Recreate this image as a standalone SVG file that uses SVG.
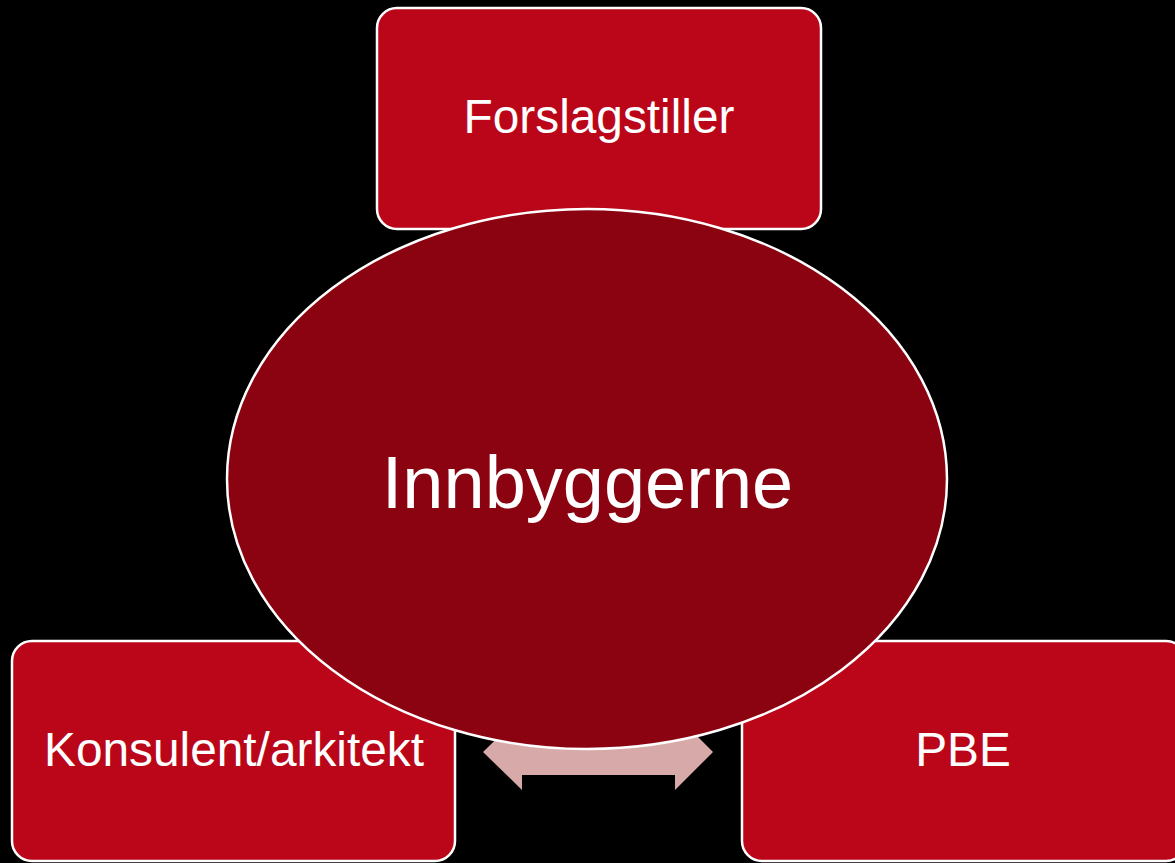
<svg xmlns="http://www.w3.org/2000/svg" width="1175" height="863" viewBox="0 0 1175 863">
<style>
.box{fill:#BA0618;stroke:#FFFFFF;stroke-width:2.5}
.hub{fill:#8B0311;stroke:#FFFFFF;stroke-width:2.5}
.lbl{font-family:"Liberation Sans",Arial,sans-serif;fill:#FFFFFF;text-anchor:middle}
</style>
<rect x="0" y="0" width="1175" height="863" fill="#000000"/>
<g id="node-forslagstiller">
<rect class="box" x="377" y="8" width="444" height="221" rx="20" ry="20"/>
<text class="lbl" x="599" y="133" font-size="47.8">Forslagstiller</text>
</g>
<g id="node-konsulent">
<rect class="box" x="12" y="641" width="443" height="220" rx="20" ry="20"/>
<text class="lbl" x="234" y="766" font-size="47.8">Konsulent/arkitekt</text>
</g>
<g id="node-pbe">
<rect class="box" x="742" y="641" width="444" height="220" rx="20" ry="20"/>
<text class="lbl" x="963" y="766" font-size="47.8">PBE</text>
</g>
<g id="connectors">
<polygon fill="#D8A9A9" points="483,752 522,714 522,729 675,729 675,714 713,752 675,790 675,775 522,775 522,790"/>
</g>
<g id="node-innbyggerne">
<ellipse class="hub" cx="587" cy="479" rx="360" ry="270"/>
<text class="lbl" x="587.5" y="508" font-size="74">Innbyggerne</text>
</g>
</svg>
